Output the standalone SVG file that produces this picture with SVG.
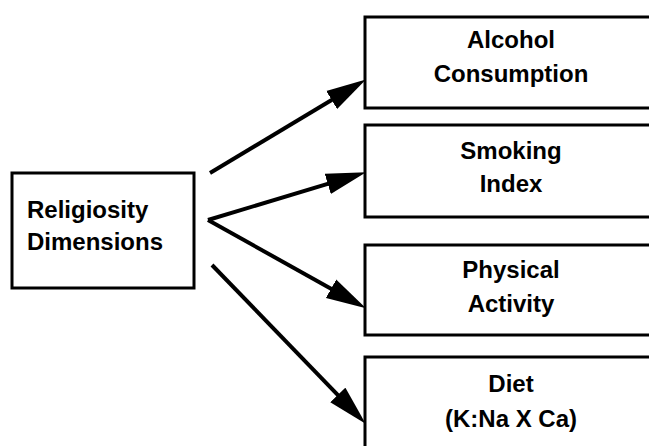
<svg xmlns="http://www.w3.org/2000/svg" width="649" height="446" viewBox="0 0 649 446">
  <style>
    .box { fill: #fff; stroke: #000; stroke-width: 3; }
    .lbl { font-family: "Liberation Sans", Arial, sans-serif; font-size: 24px; font-weight: bold; fill: #000; }
    .mid { text-anchor: middle; }
    .edge { stroke: #000; stroke-width: 4; fill: none; marker-end: url(#head); }
  </style>
  <defs>
    <marker id="head" markerUnits="userSpaceOnUse" markerWidth="40" markerHeight="22" viewBox="0 0 38 20" refX="18" refY="10" orient="auto">
      <path d="M0,0 L38,10 L0,20 Z" fill="#000"/>
    </marker>
  </defs>
  <rect width="649" height="446" fill="#fff"/>

  <g id="religiosity">
    <rect class="box" x="12" y="173" width="182" height="115"/>
    <text class="lbl" x="27" y="218">Religiosity</text>
    <text class="lbl" x="27" y="250">Dimensions</text>
  </g>

  <g id="alcohol">
    <rect class="box" x="365" y="17" width="300" height="91"/>
    <text class="lbl mid" x="511" y="48">Alcohol</text>
    <text class="lbl mid" x="511" y="82">Consumption</text>
  </g>

  <g id="smoking">
    <rect class="box" x="365" y="125" width="300" height="92"/>
    <text class="lbl mid" x="511" y="159">Smoking</text>
    <text class="lbl mid" x="511" y="192">Index</text>
  </g>

  <g id="activity">
    <rect class="box" x="365" y="245" width="300" height="90"/>
    <text class="lbl mid" x="511" y="278">Physical</text>
    <text class="lbl mid" x="511" y="312">Activity</text>
  </g>

  <g id="diet">
    <rect class="box" x="365" y="357" width="300" height="100"/>
    <text class="lbl mid" x="511" y="392">Diet</text>
    <text class="lbl mid" x="511" y="427">(K:Na X Ca)</text>
  </g>

  <g id="connectors">
    <!-- each line stops short of the box; the marker tip lands on the box edge -->
    <line class="edge" x1="210" y1="173" x2="347.9" y2="90.3"/>
    <line class="edge" x1="208" y1="220" x2="345.9" y2="178.4"/>
    <line class="edge" x1="208" y1="220" x2="347.6" y2="298"/>
    <line class="edge" x1="212" y1="265" x2="351" y2="408.6"/>
  </g>
</svg>
